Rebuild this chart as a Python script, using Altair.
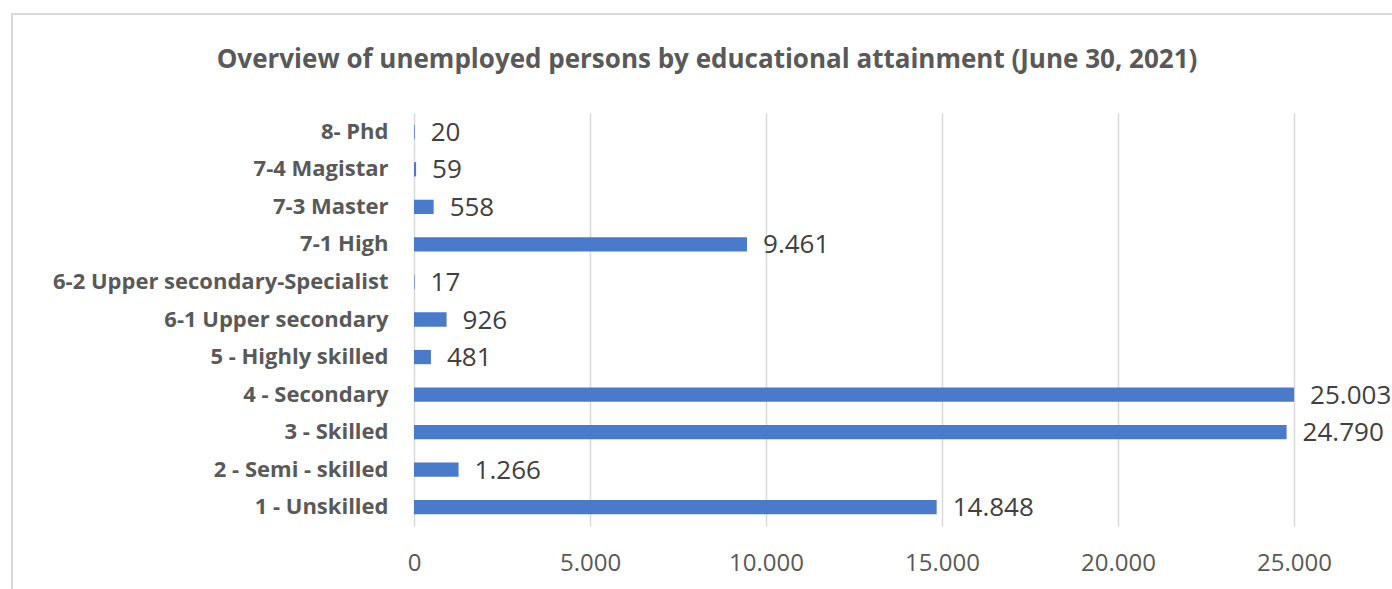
import altair as alt
import pandas as pd

categories = [
    "8- Phd",
    "7-4 Magistar",
    "7-3 Master",
    "7-1 High",
    "6-2 Upper secondary-Specialist",
    "6-1 Upper secondary",
    "5 - Highly skilled",
    "4 - Secondary",
    "3 - Skilled",
    "2 - Semi - skilled",
    "1 - Unskilled",
]
values = [20, 59, 558, 9461, 17, 926, 481, 25003, 24790, 1266, 14848]
x_ticks = [0, 5000, 10000, 15000, 20000, 25000]
title_text = "Overview of unemployed persons by educational attainment (June 30, 2021)"

df = pd.DataFrame({"category": categories, "value": values})
df["label"] = [f"{v:,}".replace(",", ".") for v in values]
single = pd.DataFrame({"t": [title_text]})

FONT = "Open Sans"
GREY = "#595959"

x_enc = alt.X(
    "value:Q",
    scale=alt.Scale(domain=[0, 25000], nice=False),
    axis=alt.Axis(
        values=x_ticks,
        labelExpr="replace(format(datum.value, ','), ',', '.')",
        title=None,
        domain=False,
        ticks=False,
        grid=True,
        gridColor="#d9d9d9",
        gridWidth=1.5,
        labelFont=FONT,
        labelFontSize=24,
        labelColor=GREY,
        labelPadding=25,
        labelFlush=False,
        labelOverlap=False,
    ),
)
y_enc = alt.Y(
    "category:N",
    sort=categories,
    scale=alt.Scale(paddingInner=0.62, paddingOuter=0.31),
    axis=alt.Axis(
        title=None,
        domain=False,
        ticks=False,
        labelFont=FONT,
        labelFontSize=22,
        labelFontWeight="bold",
        labelColor=GREY,
        labelPadding=26,
        labelLimit=500,
    ),
)

border = alt.Chart(single).mark_rect(
    fill=None, stroke="#d9d9d9", strokeWidth=2, clip=False
).encode(
    x=alt.value(-402), x2=alt.value(986), y=alt.value(-99), y2=alt.value(490)
)

title = alt.Chart(single).mark_text(
    align="center", baseline="alphabetic", font=FONT, fontSize=26,
    fontWeight="bold", color=GREY
).encode(x=alt.value(293), y=alt.value(-45), text="t:N")

bars = alt.Chart(df).mark_bar(color="#4a7bcb").encode(
    x=x_enc, y=y_enc
)

text = alt.Chart(df).mark_text(
    align="left", baseline="middle", dx=16, dy=1, font=FONT, fontSize=26, color="#404040"
).encode(
    x="value:Q", y=alt.Y("category:N", sort=categories), text="label:N"
)

chart = alt.layer(border, title, bars, text).properties(
    width=880,
    height=413,
    background="white",
    autosize=alt.AutoSizeParams(type="none"),
    padding={"left": 414, "top": 113, "right": 98, "bottom": 63},
).configure_view(stroke=None)

chart.save("out.html", embed_options={"renderer": "svg", "actions": False})
